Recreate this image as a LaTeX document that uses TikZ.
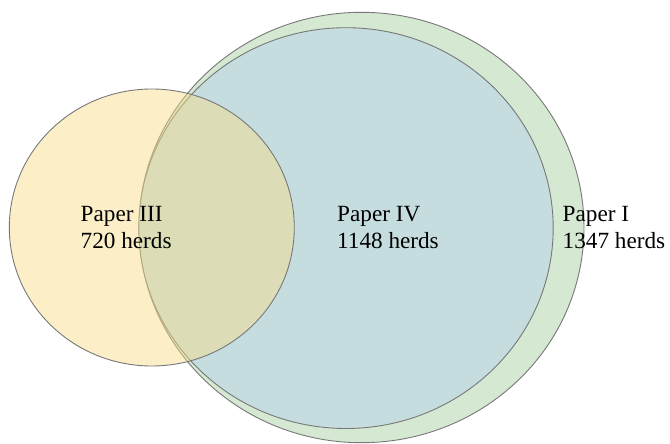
\documentclass[tikz,border=0pt]{standalone}
\usepackage{fontspec}
\setmainfont{Liberation Serif}
\definecolor{greenfill}{RGB}{213,232,210}
\definecolor{bluefill}{RGB}{197,221,223}
\definecolor{yellowfill}{RGB}{249,221,135}
\definecolor{edgegrey}{RGB}{120,120,120}
\tikzset{
  setshape/.style={draw=edgegrey, line width=0.9pt},
  setlabel/.style={anchor=base west, align=left, inner sep=0pt, font=\fontsize{23.2}{26.7}\selectfont, text=black}
}
\begin{document}
\begin{tikzpicture}[x=1pt,y=-1pt]
\useasboundingbox (0,0) rectangle (670,444);
\fill[white] (0,0) rectangle (670,444);
\draw[setshape, fill=greenfill] (361.5,227.5) ellipse [x radius=222.5, y radius=215.2];
\draw[setshape, fill=bluefill] (346,228.1) ellipse [x radius=207.2, y radius=200.4];
\draw[setshape, fill=yellowfill, fill opacity=0.45] (151.8,227.5) ellipse [x radius=142.5, y radius=138.5];
\node[setlabel] (p3) at (80.5,248.3) {Paper III\\720 herds};
\node[setlabel] (p4) at (337,248.3) {Paper IV\\1148 herds};
\node[setlabel] (p1) at (562.5,248.5) {Paper I\\1347 herds};
\end{tikzpicture}
\end{document}
